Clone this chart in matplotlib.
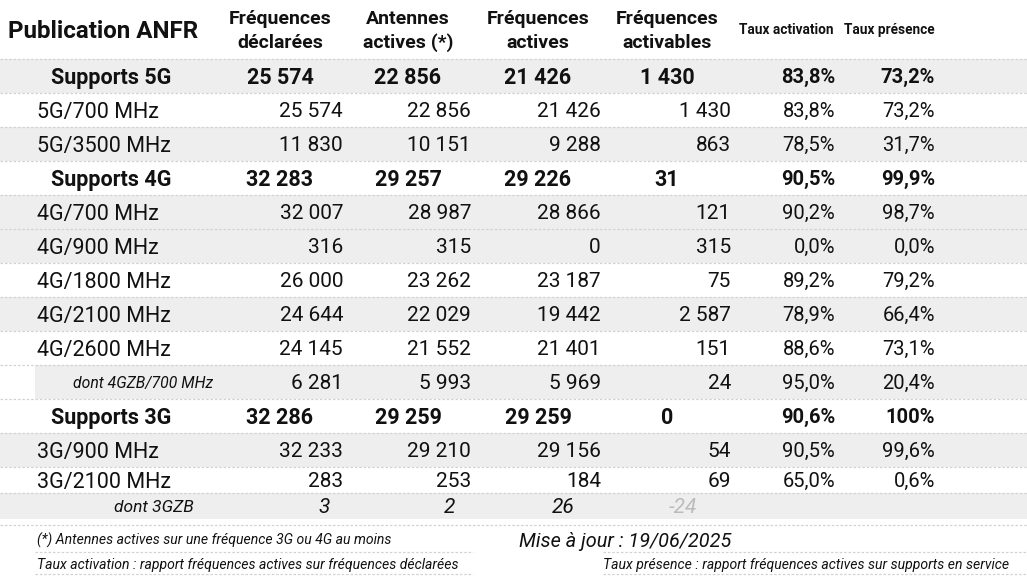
import matplotlib.pyplot as plt
from matplotlib.patches import Rectangle

#------------------------------------------------------------------------------
# Données du tableau ANFR
labels = ['Supports 5G', '5G/700 MHz', '5G/3500 MHz',
          'Supports 4G', '4G/700 MHz', '4G/900 MHz', '4G/1800 MHz',
          '4G/2100 MHz', '4G/2600 MHz', 'dont 4GZB/700 MHz',
          'Supports 3G', '3G/900 MHz', '3G/2100 MHz', 'dont 3GZB']
kinds = ['total', 'band', 'band',
         'total', 'band', 'band', 'band', 'band', 'band', 'dont',
         'total', 'band', 'band', 'dont3']
declarees = [25574, 25574, 11830, 32283, 32007, 316, 26000, 24644, 24145, 6281,
             32286, 32233, 283, 3]
antennes = [22856, 22856, 10151, 29257, 28987, 315, 23262, 22029, 21552, 5993,
            29259, 29210, 253, 2]
actives = [21426, 21426, 9288, 29226, 28866, 0, 23187, 19442, 21401, 5969,
           29259, 29156, 184, 26]
activables = [1430, 1430, 863, 31, 121, 315, 75, 2587, 151, 24,
              0, 54, 69, -24]
taux_activation = [83.8, 83.8, 78.5, 90.5, 90.2, 0.0, 89.2, 78.9, 88.6, 95.0,
                   90.6, 90.5, 65.0, None]
taux_presence = [73.2, 73.2, 31.7, 99.9, 98.7, 0.0, 79.2, 66.4, 73.1, 20.4,
                 100, 99.6, 0.6, None]
shaded = [True, False, True, False, True, True, False, True, False, True,
          False, True, False, True]

headers = [('Fréquences', 'déclarées'), ('Antennes', 'actives (*)'),
           ('Fréquences', 'actives'), ('Fréquences', 'activables')]
headers_taux = ['Taux activation', 'Taux présence']

# Mise en page (pixels)
W, H = 1027, 577
row_edges = [59, 93, 127, 161, 195, 229, 263, 297, 331, 365, 399, 433, 467, 493, 519]
num_right = [343, 471, 601, 731]
num_center = [280, 408, 538, 667]
dont3_right = [330, 455, 575, 697]
taux_right = [835, 935]
taux_center = [786, 889]

TXT = '#111111'
GRIS = '#eeeeee'
LIGNE = '#d2d2d2'

plt.rcParams['font.family'] = ['Roboto', 'DejaVu Sans']


def fmt_nb(v):
    return f'{v:,}'.replace(',', ' ')


def fmt_pct(v):
    if v is None:
        return ''
    if v == 100:
        return '100%'
    return f'{v:.1f}%'.replace('.', ',')


def hline(ax, y, x0=0, x1=W):
    ax.plot([x0, x1], [y, y], color=LIGNE, lw=0.9, ls=(0, (2, 1.5)))


def put(ax, x, yc, s, size, ha='left', **kw):
    # centre vertical sur la hauteur des capitales
    base = yc + 0.355 * size * 100 / 72
    kw.setdefault('color', TXT)
    ax.text(x, base, s, fontsize=size, ha=ha, va='baseline', **kw)


#------------------------------------------------------------------------------
fig = plt.figure(figsize=(W / 100, H / 100), dpi=100)
ax = fig.add_axes([0, 0, 1, 1])
ax.set_xlim(0, W)
ax.set_ylim(H, 0)
ax.axis('off')

# En-tête
put(ax, 8, 29, 'Publication ANFR', 17.4, fontweight='bold')
for x, (l1, l2) in zip(num_center, headers):
    ax.text(x, 23.5, l1, fontsize=14, fontweight='bold', color=TXT,
            ha='center', va='baseline')
    ax.text(x, 47.5, l2, fontsize=14, fontweight='bold', color=TXT,
            ha='center', va='baseline')
for x, h in zip(taux_center, headers_taux):
    ax.text(x, 34, h, fontsize=9.8, fontweight='bold', color=TXT,
            ha='center', va='baseline')

hline(ax, row_edges[0])

# Lignes du tableau
for i, lab in enumerate(labels):
    y0, y1 = row_edges[i], row_edges[i + 1]
    yc = (y0 + y1) / 2
    k = kinds[i]
    if shaded[i]:
        x0 = 35 if k == 'dont' else 0
        ax.add_patch(Rectangle((x0, y0), W - x0, y1 - y0, color=GRIS, lw=0, zorder=0))
    hline(ax, y1 if i < len(labels) - 1 else 525)

    vals = [declarees[i], antennes[i], actives[i], activables[i]]
    pcts = [taux_activation[i], taux_presence[i]]

    if k == 'total':
        put(ax, 111, yc, lab, 15.5, ha='center', fontweight='bold')
        for x, v in zip(num_center, vals):
            put(ax, x, yc, fmt_nb(v), 15.5, ha='center', fontweight='bold')
        for x, v in zip(taux_right, pcts):
            put(ax, x, yc, fmt_pct(v), 14.5, ha='right', fontweight='bold')
    elif k in ('band', 'dont'):
        if k == 'band':
            put(ax, 37, yc, lab, 15.5)
        else:
            put(ax, 143, yc, lab, 11.3, ha='center', style='italic')
        for x, v in zip(num_right, vals):
            put(ax, x, yc, fmt_nb(v), 15, ha='right')
        for x, v in zip(taux_right, pcts):
            put(ax, x, yc, fmt_pct(v), 14.5, ha='right')
    else:
        put(ax, 154, yc, lab, 12.5, ha='center', style='italic')
        for x, v in zip(dont3_right, vals):
            c = '#bbbbbb' if v < 0 else TXT
            put(ax, x, yc, fmt_nb(v), 15, ha='right', style='italic', color=c)

# Notes de bas de tableau
put(ax, 37, 540, '(*) Antennes actives sur une fréquence 3G ou 4G au moins',
    10.1, style='italic')
put(ax, 37, 564, 'Taux activation : rapport fréquences actives sur fréquences déclarées',
    10.1, style='italic')
put(ax, 519, 540, 'Mise à jour : 19/06/2025', 14.3, style='italic')
put(ax, 603, 564, 'Taux présence : rapport fréquences actives sur supports en service',
    10.1, style='italic')
hline(ax, 552, 35, 473)
hline(ax, 574, 35, 473)
hline(ax, 552, 603, W)
hline(ax, 574, 603, W)

fig.savefig('out.png', dpi=100)
